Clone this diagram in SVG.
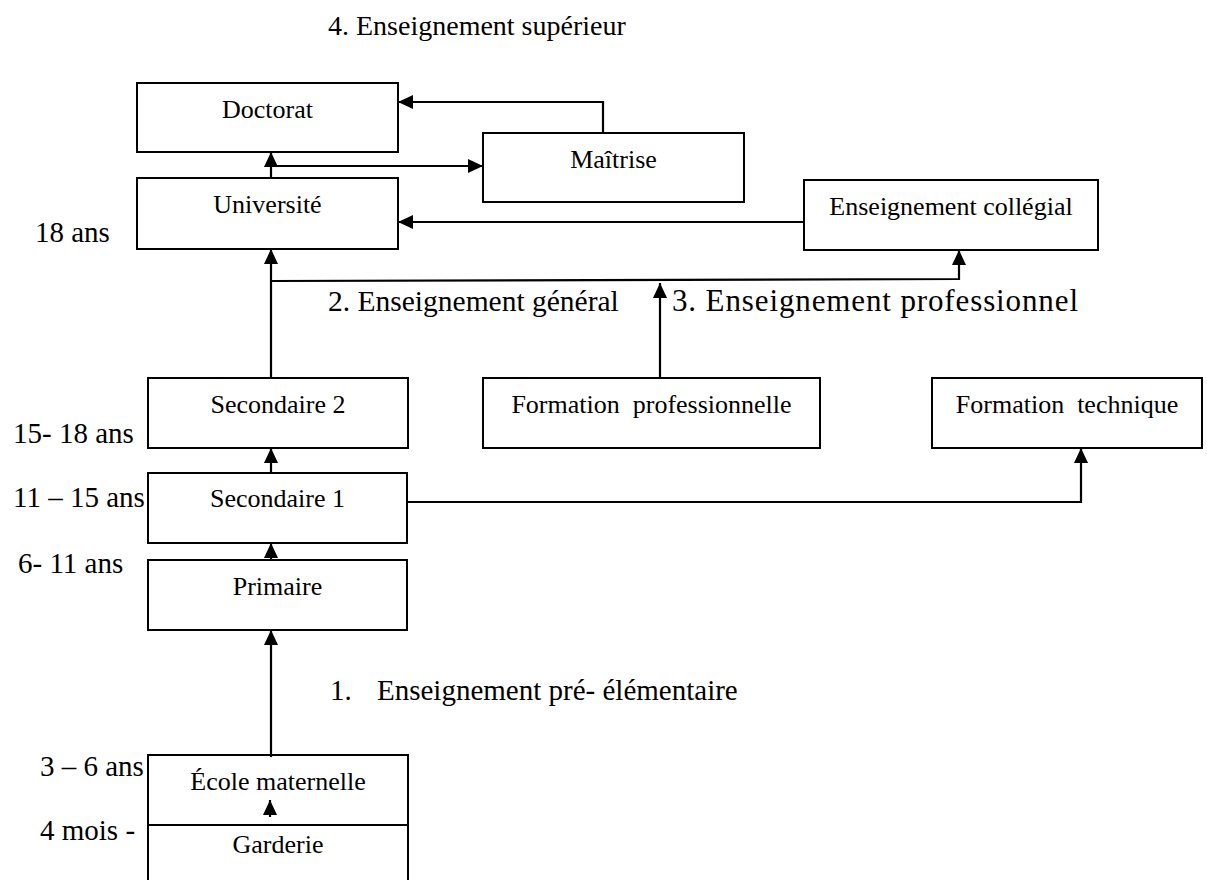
<svg xmlns="http://www.w3.org/2000/svg" width="1207" height="882" viewBox="0 0 1207 882">
<style>
  .box{fill:#fff;stroke:#000;stroke-width:2}
  .bt{font-family:"Liberation Serif","Times New Roman",serif;font-size:26px;fill:#000;text-anchor:middle;white-space:pre}
  .lt{font-family:"Liberation Serif","Times New Roman",serif;font-size:29px;fill:#000;white-space:pre}
  .c{fill:none;stroke:#000;stroke-width:2.2}
</style>
<defs>
  <marker id="ah" markerUnits="userSpaceOnUse" markerWidth="16" markerHeight="14" refX="15" refY="7" orient="auto">
    <path d="M0,0 L15,7 L0,14 z" fill="#000"/>
  </marker>
</defs>
<rect width="1207" height="882" fill="#fff"/>

<g id="labels">
  <text class="lt" x="328" y="35" style="font-size:28px">4. Enseignement supérieur</text>
  <text class="lt" x="35" y="242">18 ans</text>
  <text class="lt" x="328" y="311" style="font-size:29.5px">2. Enseignement général</text>
  <text class="lt" x="672" y="311" style="font-size:31px" textLength="406" lengthAdjust="spacing">3. Enseignement professionnel</text>
  <text class="lt" x="13" y="443">15- 18 ans</text>
  <text class="lt" x="13" y="507">11 – 15 ans</text>
  <text class="lt" x="18" y="573">6- 11 ans</text>
  <text class="lt" x="330" y="700">1.</text>
  <text class="lt" x="377" y="700">Enseignement pré- élémentaire</text>
  <text class="lt" x="40" y="776">3 – 6 ans</text>
  <text class="lt" x="40" y="840">4 mois -</text>
</g>

<g id="doctorat"><rect class="box" x="137" y="83" width="261" height="69"/><text class="bt" x="267.5" y="118">Doctorat</text></g>
<g id="maitrise"><rect class="box" x="483" y="133" width="261" height="69"/><text class="bt" x="613.5" y="168">Maîtrise</text></g>
<g id="universite"><rect class="box" x="137" y="178" width="261" height="71"/><text class="bt" x="267.5" y="213">Université</text></g>
<g id="collegial"><rect class="box" x="804" y="180" width="294" height="70"/><text class="bt" x="951" y="215">Enseignement collégial</text></g>
<g id="secondaire2"><rect class="box" x="148" y="378" width="260" height="70"/><text class="bt" x="278" y="413">Secondaire 2</text></g>
<g id="formation-pro"><rect class="box" x="483" y="378" width="337" height="70"/><text class="bt" x="651.5" y="413">Formation  professionnelle</text></g>
<g id="formation-tech"><rect class="box" x="932" y="378" width="270" height="70"/><text class="bt" x="1067" y="413">Formation  technique</text></g>
<g id="secondaire1"><rect class="box" x="148" y="473" width="259" height="70"/><text class="bt" x="277.5" y="507">Secondaire 1</text></g>
<g id="primaire"><rect class="box" x="148" y="560" width="259" height="70"/><text class="bt" x="277.5" y="595">Primaire</text></g>
<g id="ecole"><rect class="box" x="148" y="755" width="260" height="70"/><text class="bt" x="278" y="790">École maternelle</text></g>
<g id="garderie"><path class="box" d="M148,880 V825 H408 V880" fill="none"/><text class="bt" x="278" y="853">Garderie</text></g>

<g id="connectors">
  <path class="c" d="M603,133 V102 H398" marker-end="url(#ah)"/>
  <path class="c" d="M271,178 V152" marker-end="url(#ah)"/>
  <path class="c" d="M271,166 H483" marker-end="url(#ah)"/>
  <path class="c" d="M804,222 H398" marker-end="url(#ah)"/>
  <path class="c" d="M271,378 V249" marker-end="url(#ah)"/>
  <path class="c" d="M271,281 L959,279 V250" marker-end="url(#ah)"/>
  <path class="c" d="M660,378 V283" marker-end="url(#ah)"/>
  <path class="c" d="M271,473 V448" marker-end="url(#ah)"/>
  <path class="c" d="M271,560 V543" marker-end="url(#ah)"/>
  <path class="c" d="M271,757 V630" marker-end="url(#ah)"/>
  <path class="c" d="M407,502 H1081 V448" marker-end="url(#ah)"/>
  <path class="c" d="M270,817 V800" marker-end="url(#ah)"/>
</g>
</svg>
